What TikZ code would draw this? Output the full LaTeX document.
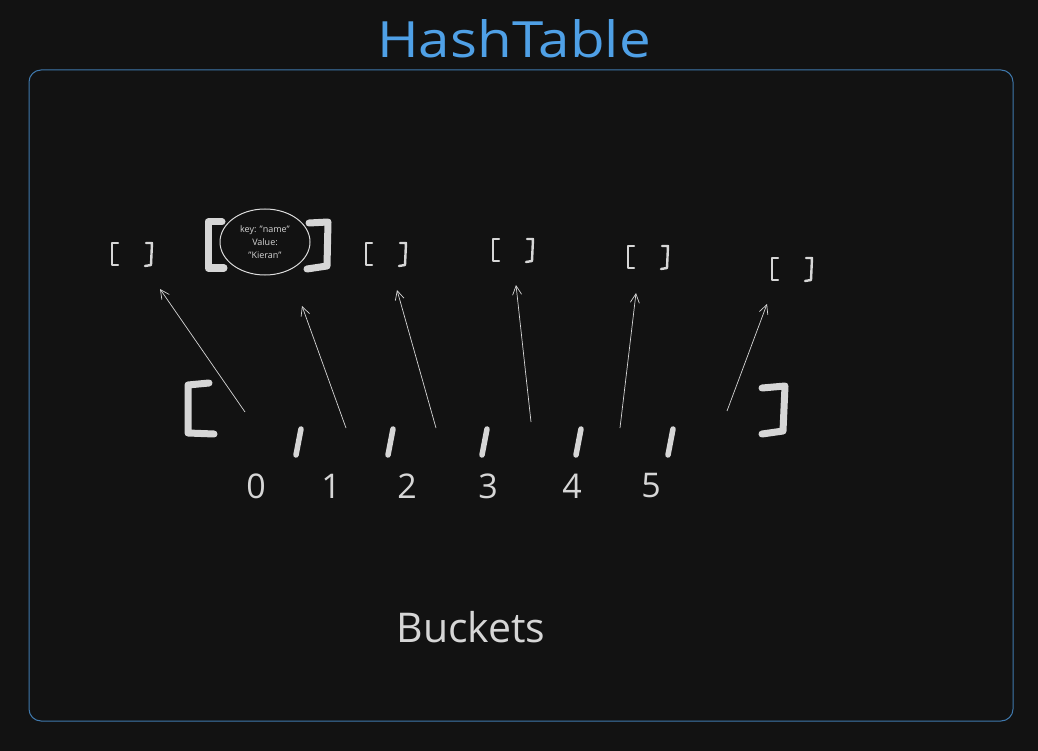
\documentclass[tikz,border=0pt]{standalone}
\usepackage{fontspec}
\setmainfont{Open Sans}
\usetikzlibrary{arrows.meta,shapes.geometric}
\definecolor{bg}{HTML}{121212}
\definecolor{ink}{HTML}{D6D6D6}
\definecolor{frameblue}{HTML}{3F78AC}
\definecolor{titleblue}{HTML}{4FA0E6}
\tikzset{
  bigbr/.style={draw=ink, line width=7pt, line cap=round, line join=round},
  smallbr/.style={draw=ink, line width=2.4pt, line cap=round, line join=round},
  sep/.style={draw=ink, line width=5.5pt, line cap=round},
  ptr/.style={draw=ink, line width=0.7pt, -{Straight Barb[length=9pt,width=9pt]}},
  digit/.style={text=ink, font=\fontsize{34}{34}\selectfont},
}
\begin{document}
\begin{tikzpicture}[x=1pt,y=-1pt]
\fill[bg] (0,0) rectangle (1038,751);
\useasboundingbox (0,0) rectangle (1038,751);
% frame
\draw[frameblue, line width=1pt, rounded corners=12pt] (29,70) rectangle (1013,721);
\node[text=titleblue, font=\fontsize{50}{50}\selectfont] (title) at (514,39) {\scalebox{1.13}[1]{HashTable}};
% small buckets
\foreach \i/\x/\y in {0/132/254, 2/386/254, 3/513/250, 4/648/257, 5/792/269}{
  \coordinate (b\i) at (\x,\y);
  \draw[smallbr] (\x-14,\y-11) -- (\x-20,\y-11) -- (\x-20,\y+11) -- (\x-14,\y+11);
  \draw[smallbr] (\x+14,\y-11) -- (\x+20,\y-11) -- (\x+19,\y+11) -- (\x+13,\y+12);
}
% bucket with entry
\node[draw=ink!85, line width=1pt, ellipse, minimum width=90pt, minimum height=66pt, inner sep=0pt] (b1) at (265,242) {};
\node[text=ink, font=\fontsize{9}{13}\selectfont, align=center] (entry) at (265,242) {key: "name"\\Value:\\"Kieran"};
\draw[bigbr] (222,222) -- (208,222) -- (208,268) -- (224,268);
\draw[bigbr] (309,223) -- (328,222) -- (327,266) -- (307,269);
% big array brackets
\draw[bigbr] (209,383) -- (188,385) -- (188,433) -- (214,434);
\draw[bigbr] (762,388) -- (785,386) -- (783,431) -- (762,434);
% separators
\foreach \x in {298,390,484,578,670}{
  \draw[sep] (\x+3,429) -- (\x-2,455);
}
% digits
\foreach \d/\x in {0/256,1/331,2/407,3/488,4/572,5/651}{
  \node[digit] (d\d) at (\x,486) {\d};
}
% pointers
\foreach \i/\ax/\ay/\bx/\by in {0/245/412/160/289, 1/346/428/302/306, 2/436/428/397/290, 3/531/422/516/285, 4/620/428/636/293, 5/727/411/767/304}{
  \coordinate (s\i) at (\ax,\ay);
  \coordinate (t\i) at (\bx,\by);
  \draw[ptr] (s\i) -- (t\i);
}
\node[text=ink, font=\fontsize{41}{41}\selectfont] (buckets) at (471,627) {Buckets};
\end{tikzpicture}
\end{document}
